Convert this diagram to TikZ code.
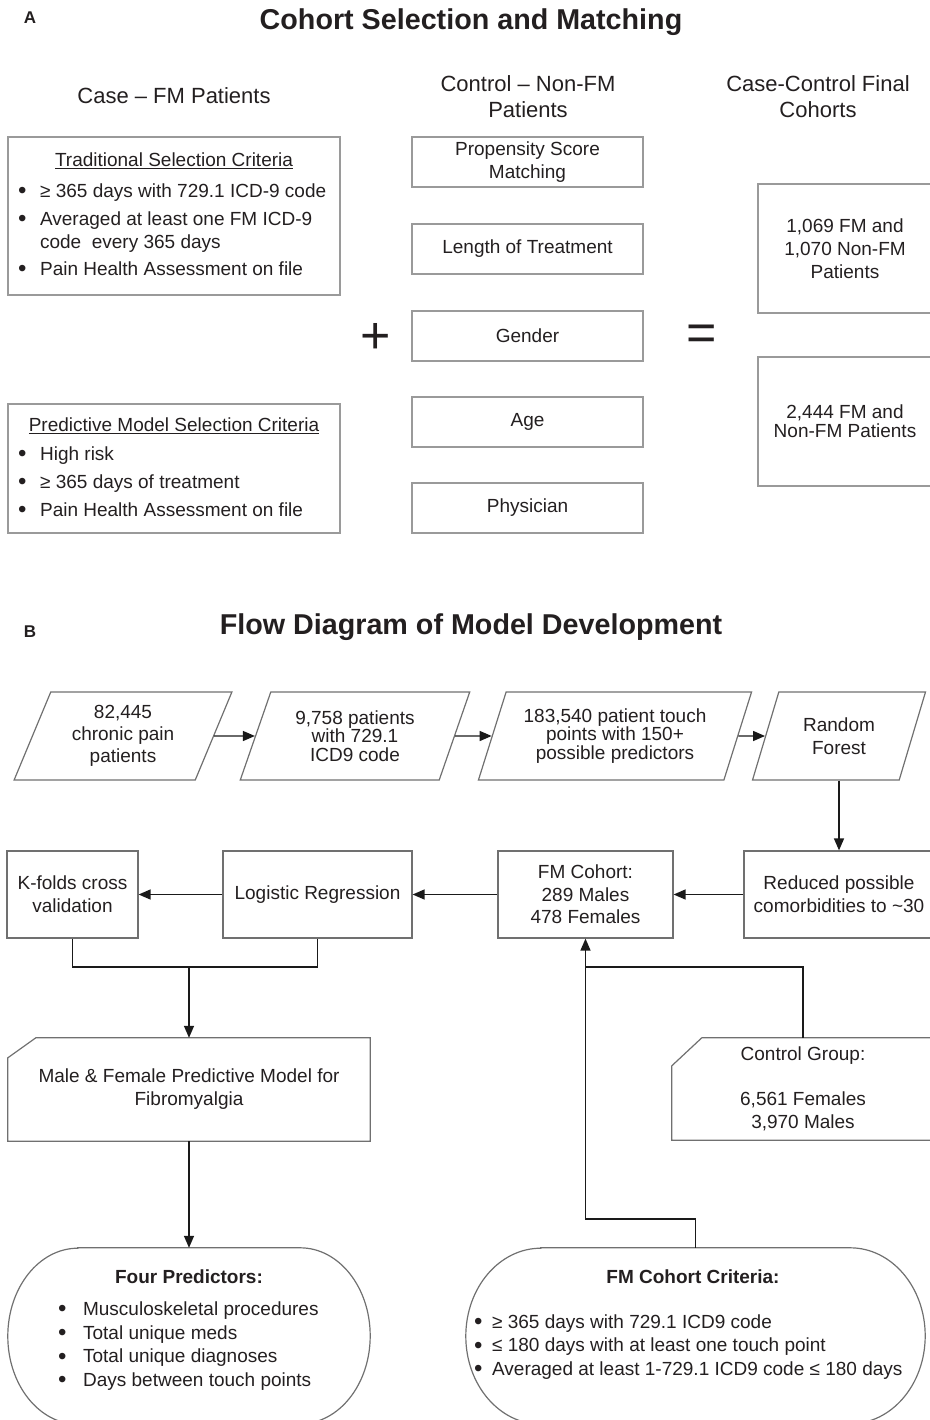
\documentclass[tikz,border=0pt]{standalone}
\usepackage{fontspec}
\setmainfont{Liberation Sans}
\usepackage{tikz}
\usetikzlibrary{arrows.meta, shapes.geometric}
\definecolor{txt}{HTML}{231F20}
\definecolor{bordA}{HTML}{9A9A9A}
\definecolor{bordB}{HTML}{707070}
\definecolor{lnk}{HTML}{1A1A1A}
\newcommand{\itembul}{\raisebox{-1.5pt}{\fontsize{24}{24}\selectfont\textbullet}}

\begin{document}
\begin{tikzpicture}[x=1pt, y=-1pt, >={Triangle[length=12pt, width=10pt]},
    every node/.style={font=\fontsize{19}{23}\selectfont, text=txt},
    lbl/.style={font=\bfseries\fontsize{17}{20}\selectfont},
    ttl/.style={font=\bfseries\fontsize{28.7}{32}\selectfont},
    hdr/.style={font=\fontsize{22}{26}\selectfont, align=center},
    bold/.style={font=\bfseries\fontsize{19}{23}\selectfont},
    lst/.style={align=left, inner sep=0pt},
    sym/.style={font=\fontsize{52}{52}\selectfont, inner sep=0pt},
    boxa/.style={draw=bordA, line width=1.2pt, minimum width=231pt, minimum height=50pt, inner sep=0pt, align=center},
    boxb/.style={draw=bordB, line width=1.2pt, minimum height=87pt, inner sep=0pt, align=center},
    para/.style={draw=bordB, line width=1.2pt, trapezium, trapezium left angle=67, trapezium right angle=113,
        trapezium stretches=true, minimum height=88pt, inner sep=0pt, align=center},
    plain/.style={inner sep=0pt, align=center},
    edge/.style={draw=bordB, line width=1.2pt},
    arr/.style={->, draw=lnk, line width=1.4pt},
    link/.style={draw=lnk, line width=1.4pt}]
    \useasboundingbox (0,0) rectangle (929,1420);

    \node[lbl] (la) at (30,18) {A};
    \node[ttl] (ta) at (471,22) {Cohort Selection and Matching};
    \node[hdr] (hcase) at (174,96) {Case – FM Patients};
    \node[hdr] (hctl) at (528,97) {Control – Non-FM\\Patients};
    \node[hdr] (hfin) at (818,97) {Case-Control Final\\Cohorts};

    \node[boxa, minimum width=332pt, minimum height=158pt] (trad) at (174,216) {};
    \node (tradt) at (174,161) {\underline{Traditional Selection Criteria}};
    \node[lst, anchor=west] (tradl) at (18,230) {\itembul\hspace{13.5pt}≥ 365 days with 729.1 ICD-9 code\\[5pt]
        \itembul\hspace{13.5pt}Averaged at least one FM ICD-9\\
        \phantom{\itembul}\hspace{13.5pt}code\ \ every 365 days\\[4pt]
        \itembul\hspace{13.5pt}Pain Health Assessment on file};

    \node[boxa, minimum width=332pt, minimum height=129pt] (pred) at (174,468.5) {};
    \node (predt) at (174,426) {\underline{Predictive Model Selection Criteria}};
    \node[lst, anchor=west] (predl) at (18,482) {\itembul\hspace{13.5pt}High risk\\[5pt]
        \itembul\hspace{13.5pt}≥ 365 days of treatment\\[5pt]
        \itembul\hspace{13.5pt}Pain Health Assessment on file};

    \node[boxa] (psm) at (527.5,162) {Propensity Score\\Matching};
    \node[boxa] (lot) at (527.5,249) {Length of Treatment};
    \node[boxa] (gen) at (527.5,336) {Gender};
    \node[boxa] (age) at (527.5,422) {Age};
    \node[boxa] (phy) at (527.5,508) {Physician};

    \node[sym] (plus) at (376,338) {+};
    \node[sym] (eq) at (702,338) {=};

    \node[boxa, minimum width=174pt, minimum height=129pt] (fin1) at (845,248.5) {1,069 FM and\\1,070 Non-FM\\Patients};
    \node[boxa, minimum width=174pt, minimum height=129pt, font=\fontsize{19}{19}\selectfont] (fin2) at (845,421.5) {2,444 FM and\\Non-FM Patients};

    \node[lbl] (lb) at (30,632) {B};
    \node[ttl] (tb) at (471,627) {Flow Diagram of Model Development};

    \node[para, minimum width=218pt, font=\fontsize{19}{22}\selectfont] (p1) at (123,736) {82,445\\chronic pain\\patients};
    \node[para, minimum width=230pt, font=\fontsize{19}{18.5}\selectfont] (p2) at (355,736) {9,758 patients\\with 729.1\\ICD9 code};
    \node[para, minimum width=274pt, font=\fontsize{19}{18.5}\selectfont] (p3) at (615,736) {183,540 patient touch\\points with 150+\\possible predictors};
    \node[para, minimum width=173pt] (p4) at (839,736) {Random\\Forest};

    \node[boxb, minimum width=131pt] (kf) at (72.5,894.5) {K-folds cross\\validation};
    \node[boxb, minimum width=189pt] (lr) at (317.5,894.5) {Logistic Regression};
    \node[boxb, minimum width=175pt, font=\fontsize{19}{22.5}\selectfont] (fmc) at (585.5,894.5) {FM Cohort:\\289 Males\\478 Females};
    \node[boxb, minimum width=190pt] (red) at (839,894.5) {Reduced possible\\comorbidities to \textasciitilde30};

    \node[plain, minimum width=362pt, minimum height=103pt] (mf) at (189,1089.5) {Male \& Female Predictive Model for\\Fibromyalgia};
    \draw[edge] ([yshift=-20pt]mf.north west) -- ([xshift=28pt]mf.north west) -- (mf.north east)
        -- (mf.south east) -- (mf.south west) -- cycle;

    \node[plain, minimum width=262pt, minimum height=102pt, font=\fontsize{19}{22.5}\selectfont] (cg) at (803,1089) {Control Group:\\ \\6,561 Females\\3,970 Males};
    \draw[edge] ([yshift=-28pt]cg.north west) -- ([xshift=30pt]cg.north west) -- (cg.north east)
        -- (cg.south east) -- (cg.south west) -- cycle;

    \node[plain, minimum width=362pt, minimum height=176pt] (fp) at (189,1336) {};
    \draw[edge] ([xshift=70pt]fp.north west) -- ([xshift=-70pt]fp.north east)
        arc[start angle=90, end angle=-90, x radius=70pt, y radius=88pt]
        -- ([xshift=70pt]fp.south west) arc[start angle=270, end angle=90, x radius=70pt, y radius=88pt] -- cycle;
    \node[bold] (fpt) at (189,1277) {Four Predictors:};
    \node[lst, anchor=west, font=\fontsize{19}{23.7}\selectfont] (fpl) at (58,1346) {\itembul\hspace{16.5pt}Musculoskeletal procedures\\
        \itembul\hspace{16.5pt}Total unique meds\\
        \itembul\hspace{16.5pt}Total unique diagnoses\\
        \itembul\hspace{16.5pt}Days between touch points};

    \node[plain, minimum width=459pt, minimum height=176pt] (fc) at (695.5,1336) {};
    \draw[edge] ([xshift=75pt]fc.north west) -- ([xshift=-75pt]fc.north east)
        arc[start angle=90, end angle=-90, x radius=75pt, y radius=88pt]
        -- ([xshift=75pt]fc.south west) arc[start angle=270, end angle=90, x radius=75pt, y radius=88pt] -- cycle;
    \node[bold] (fct) at (693,1277) {FM Cohort Criteria:};
    \node[lst, anchor=west, font=\fontsize{19}{23.5}\selectfont] (fcl) at (474,1347) {\itembul\hspace{9.5pt}≥ 365 days with 729.1 ICD9 code\\
        \itembul\hspace{9.5pt}≤ 180 days with at least one touch point\\
        \itembul\hspace{9.5pt}Averaged at least 1-729.1 ICD9 code ≤ 180 days};

    \coordinate (jn) at (189,967);
    \draw[arr] (p1) -- (p2);
    \draw[arr] (p2) -- (p3);
    \draw[arr] (p3) -- (p4);
    \draw[arr] (p4.south -| red.north) -- (red.north);
    \draw[arr] (red) -- (fmc);
    \draw[arr] (fmc) -- (lr);
    \draw[arr] (lr) -- (kf);
    \draw[link] (kf.south) |- (jn) -| (lr.south);
    \draw[arr] (jn) -- (jn |- mf.north);
    \draw[arr] (mf.south -| jn) -- (jn |- fp.north);
    \draw[arr] (fc.north) -- ++(0,-29) -| (fmc.south);
    \draw[link] (cg.north) |- (fmc.south |- jn);
\end{tikzpicture}
\end{document}
